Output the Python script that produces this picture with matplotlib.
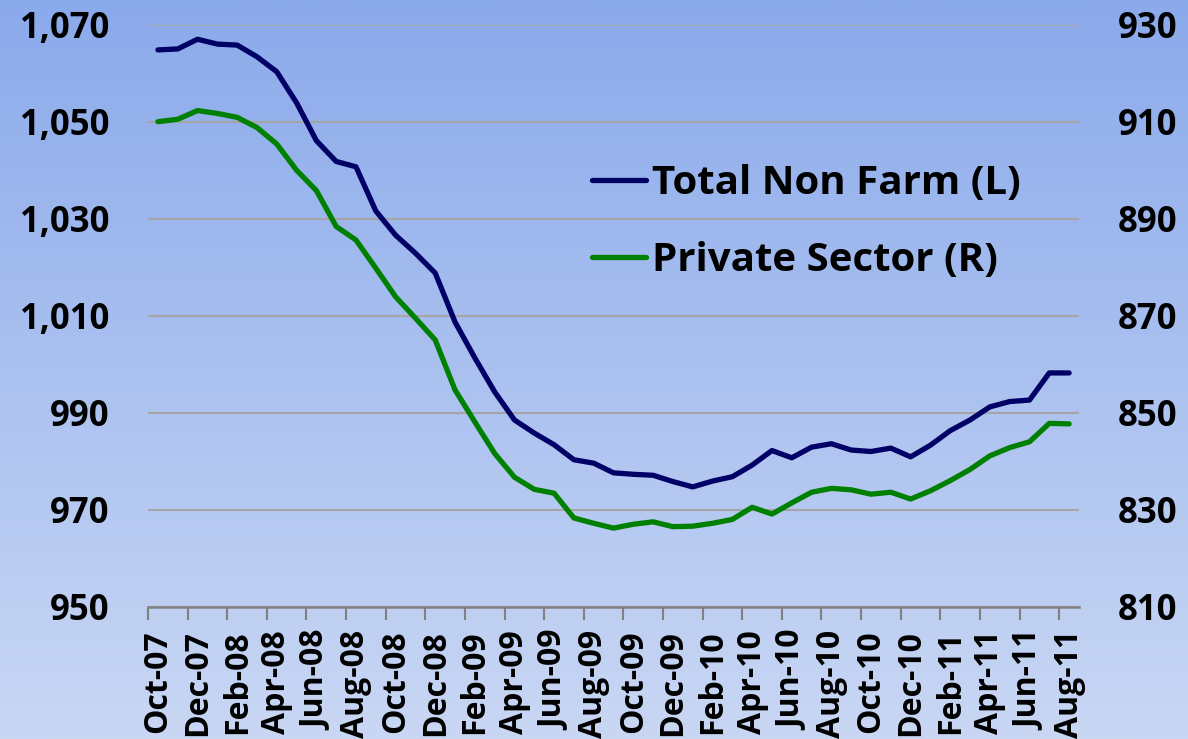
import matplotlib.pyplot as plt
import numpy as np

# Monthly employment, Oct-07 .. Aug-11 (thousands)
months = ['Oct-07', 'Nov-07', 'Dec-07', 'Jan-08', 'Feb-08', 'Mar-08', 'Apr-08', 'May-08',
          'Jun-08', 'Jul-08', 'Aug-08', 'Sep-08', 'Oct-08', 'Nov-08', 'Dec-08', 'Jan-09',
          'Feb-09', 'Mar-09', 'Apr-09', 'May-09', 'Jun-09', 'Jul-09', 'Aug-09', 'Sep-09',
          'Oct-09', 'Nov-09', 'Dec-09', 'Jan-10', 'Feb-10', 'Mar-10', 'Apr-10', 'May-10',
          'Jun-10', 'Jul-10', 'Aug-10', 'Sep-10', 'Oct-10', 'Nov-10', 'Dec-10', 'Jan-11',
          'Feb-11', 'Mar-11', 'Apr-11', 'May-11', 'Jun-11', 'Jul-11', 'Aug-11']

total_non_farm = [1064.8, 1065.0, 1067.0, 1066.0, 1065.8, 1063.4, 1060.3, 1053.9,
                  1046.1, 1041.8, 1040.7, 1031.6, 1026.6, 1022.9, 1018.8, 1008.7,
                  1001.3, 994.3, 988.5, 985.8, 983.4, 980.3, 979.6, 977.6,
                  977.3, 977.1, 975.8, 974.7, 975.9, 976.8, 979.2, 982.2,
                  980.7, 982.9, 983.6, 982.3, 982.0, 982.7, 980.9, 983.3,
                  986.3, 988.5, 991.2, 992.3, 992.6, 998.2, 998.2]

private_sector = [910.0, 910.5, 912.3, 911.7, 910.9, 908.8, 905.4, 900.0,
                  895.8, 888.4, 885.6, 879.8, 873.9, 869.5, 865.0, 854.7,
                  848.1, 841.6, 836.7, 834.2, 833.4, 828.3, 827.2, 826.2,
                  827.0, 827.5, 826.5, 826.6, 827.2, 828.0, 830.5, 829.1,
                  831.4, 833.6, 834.4, 834.1, 833.2, 833.6, 832.2, 833.9,
                  836.0, 838.3, 841.1, 842.8, 844.0, 847.8, 847.7]

left_ticks = [950, 970, 990, 1010, 1030, 1050, 1070]
right_ticks = [810, 830, 850, 870, 890, 910, 930]

plt.rcParams['font.family'] = ['Open Sans', 'DejaVu Sans']
plt.rcParams['font.weight'] = 'bold'

W, H = 1188, 739
fig = plt.figure(figsize=(W / 100, H / 100), dpi=100)

# gradient background
bg = fig.add_axes([0, 0, 1, 1], zorder=-10)
top = np.array([139, 170, 235]) / 255
bot = np.array([201, 215, 244]) / 255
t = np.linspace(0, 1, 256)[:, None]
grad = top * (1 - t[..., None]) + bot * t[..., None]
bg.imshow(np.repeat(grad, 2, axis=1), aspect='auto', extent=[0, 1, 0, 1])
bg.axis('off')

x0, x1 = 148, 1079
y_top, y_bot = 24.7, 606.7
ax = fig.add_axes([x0 / W, 1 - y_bot / H, (x1 - x0) / W, (y_bot - y_top) / H])
ax.set_facecolor('none')
ax2 = ax.twinx()

x = np.arange(len(months))
l1, = ax.plot(x, total_non_farm, color='#000066', lw=3.8, solid_capstyle='round',
              solid_joinstyle='round', label='Total Non Farm (L)', zorder=3)
l2, = ax2.plot(x, private_sector, color='#008000', lw=3.8, solid_capstyle='round',
               solid_joinstyle='round', label='Private Sector (R)', zorder=3)

ax.set_xlim(-0.5, len(months) - 0.5)
ax.set_ylim(950, 1070)
ax2.set_ylim(810, 930)

ax.set_yticks(left_ticks)
ax.set_yticklabels([f'{v:,}' for v in left_ticks])
ax2.set_yticks(right_ticks)
ax2.set_yticklabels([str(v) for v in right_ticks])
ax.tick_params(axis='y', length=0, pad=28, labelsize=25)
ax2.tick_params(axis='y', length=0, pad=28, labelsize=25)

ax.yaxis.grid(True, color='#a5a5a5', lw=1.5)
ax.set_axisbelow(True)

# ticks between categories, labels on every other month
ax.set_xticks(np.arange(-0.5, len(months) - 1, 2))
ax.set_xticklabels([])
ax.set_xticks(x[::2], minor=True)
ax.set_xticklabels(months[::2], minor=True, rotation=90, fontsize=23)
ax.tick_params(axis='x', which='major', length=9, width=1.5, color='#808080', direction='out')
ax.tick_params(axis='x', which='minor', length=0, pad=17)

for a in (ax, ax2):
    for s in ('top', 'left', 'right'):
        a.spines[s].set_visible(False)
    a.spines['bottom'].set_color('#808080')
    a.spines['bottom'].set_linewidth(1.8)
ax2.spines['bottom'].set_visible(False)

fig.legend(handles=[l1, l2], loc='upper left', bbox_to_anchor=(592 / W, 1 - 164 / H),
           frameon=False, fontsize=29, handlelength=1.35, handletextpad=0.15,
           labelspacing=0.95, borderaxespad=0, borderpad=0)

fig.savefig('out.png', dpi=100)
